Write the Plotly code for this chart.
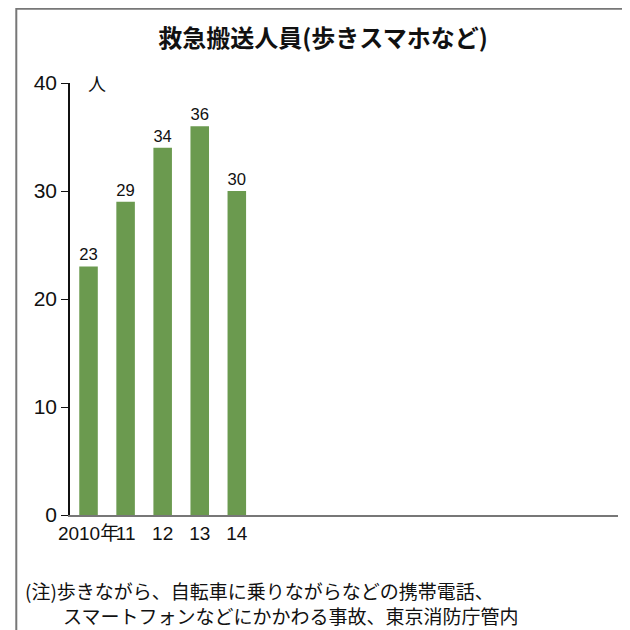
import plotly.graph_objects as go

years = ["2010年", "11", "12", "13", "14"]
counts = [23, 29, 34, 36, 30]
yticks = [0, 10, 20, 30, 40]

FONT = "Noto Sans CJK JP"
NUM = "Liberation Sans, " + FONT
green = "#6b9a4f"

fig = go.Figure(go.Bar(
    x=years, y=counts, marker=dict(color=green, line=dict(width=0)),
    text=counts, textposition="outside", cliponaxis=False,
    textfont=dict(family=NUM, size=21, color="#111"),
    showlegend=False))

# 暫定値 vertical note inside the last bar
fig.add_annotation(x=years[-1], y=counts[-1] - 1, yanchor="top", showarrow=False,
                   text="︵<br>暫<br>定<br>値<br>︶",
                   font=dict(family=FONT, size=17, color="white"))
fig.add_annotation(xref="paper", yref="y", x=0.03, y=40, xanchor="left", showarrow=False,
                   text="人", font=dict(family=FONT, size=18, color="#111"))

fig.update_layout(
    width=630, height=630, margin=dict(l=62, r=20, t=75, b=123),
    paper_bgcolor="white", plot_bgcolor="white", bargap=0.5,
    font=dict(family=FONT, color="#111"),
    title=dict(text="<b>救急搬送人員(歩きスマホなど)</b>", x=0.5, xanchor="center",
               y=0.965, font=dict(size=24, family=FONT)),
    xaxis=dict(type="category", showline=True, linecolor="#777", linewidth=2, ticks="",
               tickangle=0, tickfont=dict(size=19, family=NUM)),
    yaxis=dict(range=[0, 40], tickvals=yticks, showgrid=False, zeroline=False,
               showline=True, linecolor="#111", linewidth=1.5, ticks="outside",
               ticklen=7, tickcolor="#111",
               tickfont=dict(size=21, family=NUM)),
    shapes=[dict(type="rect", xref="paper", yref="paper", x0=-0.098, x1=1.031,
                 y0=-0.285, y1=1.172, line=dict(color="#777", width=2))],
)
fig.add_annotation(xref="paper", yref="paper", x=-0.085, y=-0.14, xanchor="left",
                   yanchor="top", align="left", showarrow=False,
                   text="(注)歩きながら、自転車に乗りながらなどの携帯電話、<br>　　スマートフォンなどにかかわる事故、東京消防庁管内",
                   font=dict(size=19, family=FONT, color="#111"))

fig.write_html("out.html")
